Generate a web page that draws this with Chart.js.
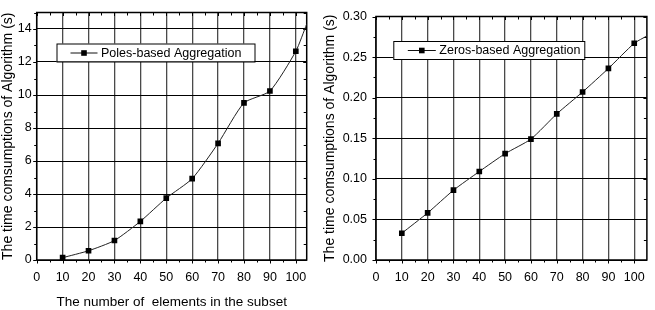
<!DOCTYPE html>
<html><head><meta charset="utf-8">
<script src="https://cdn.jsdelivr.net/npm/chart.js@4/dist/chart.umd.min.js"></script>
<style>
html,body{margin:0;padding:0;background:#fff;}
#wrap{position:relative;width:655px;height:310px;background:#fff;}
#c1{position:absolute;left:0;top:0;}
#c2{position:absolute;left:318px;top:0;}
</style></head><body>
<div id="wrap">
<canvas id="c1" width="318" height="310"></canvas>
<canvas id="c2" width="337" height="310"></canvas>
</div>
<script>
// ---- data ----
const xValues = [10, 20, 30, 40, 50, 60, 70, 80, 90, 100];
const polesValues = [0.14, 0.56, 1.18, 2.34, 3.75, 4.93, 7.07, 9.52, 10.24, 12.65];
const zerosValues = [0.033, 0.058, 0.086, 0.109, 0.131, 0.149, 0.180, 0.207, 0.236, 0.267];
// the fitted curve continues (without a marker) to the right edge of each plot
const polesTail = [104.2, 14.3];
const zerosTail = [104.9, 0.276];
const xTicks = [0, 10, 20, 30, 40, 50, 60, 70, 80, 90, 100];
const polesYTicks = [0, 2, 4, 6, 8, 10, 12, 14];
const zerosYTicks = [0, 0.05, 0.10, 0.15, 0.20, 0.25, 0.30];
const xTitle = 'The number of  elements in the subset';
const yTitle = 'The time comsumptions of Algorithm (s)';
const polesLabel = 'Poles-based Aggregation';
const zerosLabel = 'Zeros-based Aggregation';

const FONT = '"Liberation Sans", Arial, Helvetica, sans-serif';

function midpoints(arr, max) {
  const out = [];
  const step = arr[1] - arr[0];
  for (let i = 0; i < arr.length; i++) {
    const m = arr[i] + step / 2;
    if (m <= max + 1e-9) out.push(m);
  }
  return out;
}

const framePlugin = {
  id: 'frame',
  beforeDatasetsDraw(chart, args, opts) {
    const ctx = chart.ctx;
    const {left, right, top, bottom} = chart.chartArea;
    const xs = chart.scales.x, ys = chart.scales.y;
    ctx.save();
    ctx.strokeStyle = '#000';
    ctx.lineWidth = 1;
    const xMajor = opts.xTicks, yMajor = opts.yTicks;
    const xMinor = midpoints(xMajor, xs.max), yMinor = midpoints(yMajor, ys.max);
    ctx.beginPath();
    xMajor.forEach(v => { const p = Math.round(xs.getPixelForValue(v)) + 0.5;
      ctx.moveTo(p, bottom); ctx.lineTo(p, bottom + 3.5); ctx.moveTo(p, top); ctx.lineTo(p, top + 3.5); });
    xMinor.forEach(v => { const p = Math.round(xs.getPixelForValue(v)) + 0.5;
      ctx.moveTo(p, bottom); ctx.lineTo(p, bottom + 2.5); ctx.moveTo(p, top); ctx.lineTo(p, top + 3); });
    yMajor.forEach(v => { const p = Math.round(ys.getPixelForValue(v)) + 0.5;
      ctx.moveTo(left, p); ctx.lineTo(left - 3.5, p); ctx.moveTo(right, p); ctx.lineTo(right - 3.5, p); });
    yMinor.forEach(v => { const p = Math.round(ys.getPixelForValue(v)) + 0.5;
      ctx.moveTo(left, p); ctx.lineTo(left - 2.5, p); ctx.moveTo(right, p); ctx.lineTo(right - 3, p); });
    ctx.stroke();
    ctx.lineWidth = 1.5;
    ctx.strokeRect(left, top, right - left, bottom - top);
    ctx.restore();
  },
  afterDatasetsDraw(chart, args, opts) {
    const ctx = chart.ctx;
    const b = opts.box;
    ctx.save();
    ctx.fillStyle = '#fff';
    ctx.fillRect(b.x, b.y, b.w, b.h);
    ctx.strokeStyle = '#000';
    ctx.lineWidth = 1;
    ctx.strokeRect(b.x + 0.5, b.y + 0.5, b.w, b.h);
    const cy = b.y + b.h / 2 + 0.5;
    ctx.strokeStyle = '#111';
    ctx.beginPath();
    ctx.moveTo(b.x + b.symX, cy); ctx.lineTo(b.x + b.symX + b.symW, cy);
    ctx.stroke();
    ctx.fillStyle = '#000';
    const sx = b.x + b.symX + b.symW / 2;
    ctx.fillRect(sx - 2.8, cy - 2.8, 5.6, 5.6);
    ctx.font = '12.5px ' + FONT;
    ctx.textBaseline = 'middle';
    ctx.textAlign = 'left';
    ctx.fillText(chart.data.datasets[0].label, b.x + b.symX + b.symW + 3.5, cy + 0.5);
    ctx.restore();
  }
};

function makeChart(id, o) {
  const pts = xValues.map((x, i) => ({x: x, y: o.values[i]}));
  pts.push({x: o.tail[0], y: o.tail[1]});
  const radii = pts.map((p, i) => i < xValues.length ? 4 : 0);
  return new Chart(document.getElementById(id), {
    type: 'line',
    data: {
      datasets: [{
        label: o.label,
        data: pts,
        borderColor: '#222',
        borderWidth: 1,
        pointStyle: 'rect',
        pointRadius: radii,
        pointHoverRadius: radii,
        pointBackgroundColor: '#000',
        pointBorderWidth: 0,
        tension: 0.2,
        fill: false
      }]
    },
    options: {
      responsive: false,
      animation: false,
      events: [],
      layout: {autoPadding: false, padding: {left: 0, right: o.padRight, top: 8.3, bottom: 0}},
      plugins: {
        legend: {display: false},
        tooltip: {enabled: false},
        frame: {xTicks: xTicks, yTicks: o.yTicks, box: o.box}
      },
      scales: {
        x: {
          type: 'linear', min: 0, max: o.xMax,
          afterBuildTicks: s => { s.ticks = xTicks.map(v => ({value: v})); },
          afterFit: s => { s.height = 50; },
          ticks: {color: '#000', font: {family: FONT, size: 12.5}, padding: 10, maxRotation: 0, autoSkip: false},
          grid: {color: '#4a4a4a', lineWidth: 1.3, drawTicks: false},
          border: {display: false},
          title: {display: o.showXTitle, text: xTitle, color: '#000', font: {family: FONT, size: 13.5}, padding: {top: 0, bottom: 0}}
        },
        y: {
          type: 'linear', min: 0, max: o.yMax,
          afterBuildTicks: s => { s.ticks = o.yTicks.map(v => ({value: v})); },
          afterFit: s => { s.width = o.yWidth; },
          ticks: {color: '#000', font: {family: FONT, size: 12.5}, padding: o.yPad, callback: o.fmt},
          grid: {color: '#000', lineWidth: 1, drawTicks: false},
          border: {display: false},
          title: {display: true, text: yTitle, color: '#000', font: {family: FONT, size: 14}, padding: {top: o.titlePad, bottom: 0}}
        }
      }
    },
    plugins: [framePlugin]
  });
}

makeChart('c1', {
  values: polesValues, tail: polesTail, label: polesLabel, yTicks: polesYTicks,
  xMax: polesTail[0], yMax: 15, padRight: 11.3, yWidth: 36.7, yPad: 5, titlePad: 0,
  showXTitle: true, fmt: v => String(v),
  box: {x: 56.5, y: 43.5, w: 198, h: 18, symX: 14, symW: 27}
});
makeChart('c2', {
  values: zerosValues, tail: zerosTail, label: zerosLabel, yTicks: zerosYTicks,
  xMax: zerosTail[0], yMax: 0.30, padRight: 7.3, yWidth: 58, yPad: 9, titlePad: 3.6,
  showXTitle: false, fmt: v => Number(v).toFixed(2),
  box: {x: 75.3, y: 41, w: 191, h: 18, symX: 14.5, symW: 28}
});
</script>
</body></html>
